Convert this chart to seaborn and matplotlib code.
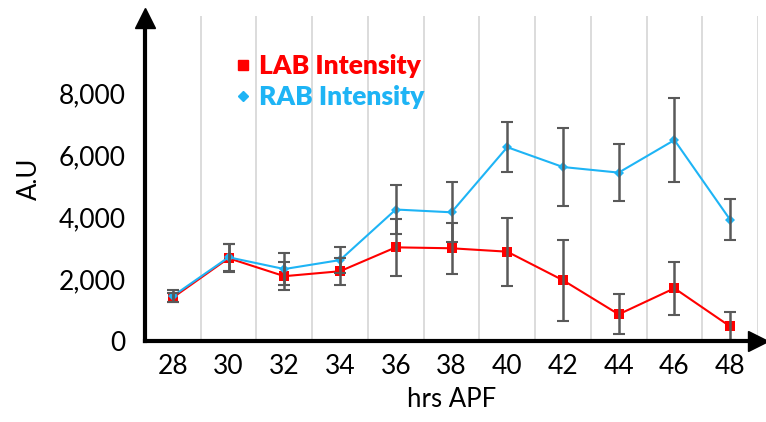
import matplotlib
matplotlib.use("Agg")
import matplotlib.pyplot as plt
import seaborn as sns
import pandas as pd
from matplotlib.lines import Line2D

hours = ["28", "30", "32", "34", "36", "38", "40", "42", "44", "46", "48"]
lab_vals = [1400, 2670, 2090, 2250, 3020, 2990, 2880, 1960, 860, 1700, 470]
lab_err = [150, 450, 460, 440, 930, 820, 1100, 1310, 640, 860, 450]
rab_vals = [1450, 2700, 2320, 2610, 4240, 4150, 6250, 5610, 5430, 6480, 3910]
rab_err = [200, 440, 520, 410, 800, 970, 810, 1250, 910, 1340, 660]
yticks = [0, 2000, 4000, 6000, 8000]

RED = "#FF0000"
BLUE = "#1EB4F5"
ERR = "#595959"

sns.set_theme(style="white")
plt.rcParams['font.family'] = ['Lato', 'DejaVu Sans']
plt.rcParams['text.color'] = 'black'
plt.rcParams['axes.labelcolor'] = 'black'
plt.rcParams['xtick.color'] = 'black'
plt.rcParams['ytick.color'] = 'black'

pos = list(range(len(hours)))
df = pd.DataFrame({
    "pos": pos * 2,
    "val": lab_vals + rab_vals,
    "series": ["LAB Intensity"] * len(hours) + ["RAB Intensity"] * len(hours),
})

fig = plt.figure(figsize=(7.66, 4.22), dpi=100)
ax = fig.add_axes([145 / 766, 81 / 422, 613 / 766, 325 / 422])

# vertical gridlines between categories
for g in [p + 0.5 for p in pos]:
    ax.axvline(g, color="#D9D9D9", lw=1.3, zorder=0)

sns.lineplot(data=df[df.series == "LAB Intensity"], x="pos", y="val", color=RED,
             marker="s", markersize=7, markeredgewidth=0, lw=1.5, ax=ax, zorder=3)
sns.lineplot(data=df[df.series == "RAB Intensity"], x="pos", y="val", color=BLUE,
             marker="D", markersize=5, markeredgewidth=0, lw=1.5, ax=ax, zorder=3)

ax.errorbar(pos, lab_vals, yerr=lab_err, fmt="none", ecolor=ERR, elinewidth=1.8,
            capsize=4, capthick=1.5, zorder=4)
ax.errorbar(pos, rab_vals, yerr=rab_err, fmt="none", ecolor=ERR, elinewidth=1.8,
            capsize=4, capthick=1.5, zorder=4)

ax.set_xlim(-0.5, 10.5)
ax.set_ylim(0, 10480)
ax.set_xticks(pos)
ax.set_xticklabels(hours, fontsize=19)
ax.set_yticks(yticks)
ax.set_yticklabels([f"{v:,}" for v in yticks], fontsize=19)
ax.tick_params(axis="y", direction="out", length=8, width=2.5, color="black", pad=6)
ax.tick_params(axis="x", length=0, pad=9)
ax.set_xlabel("hrs APF", fontsize=18.5, labelpad=6)
ax.set_ylabel("A.U", fontsize=18.5, labelpad=12)

for s in ["top", "right"]:
    ax.spines[s].set_visible(False)
for s in ["left", "bottom"]:
    ax.spines[s].set_linewidth(3)
    ax.spines[s].set_color("black")
    ax.spines[s].set_zorder(5)

# arrow heads
ax.plot(-0.5, 0.995, marker="^", color="black", markersize=15, transform=ax.get_xaxis_transform(),
        clip_on=False, zorder=6)
ax.plot(1.0, 0, marker=">", color="black", markersize=15, transform=ax.get_yaxis_transform(),
        clip_on=False, zorder=6)
ax.set_ylim(0, 10480)

handles = [Line2D([], [], color=RED, marker="s", markersize=7, ls="none"),
           Line2D([], [], color=BLUE, marker="D", markersize=5, ls="none")]
ax.legend(handles, ["LAB Intensity", "RAB Intensity"], loc="upper left",
          bbox_to_anchor=(0.13, 0.915), frameon=False, labelcolor=[RED, BLUE],
          prop={"weight": "heavy", "size": 19}, handlelength=0.6, handletextpad=0.3,
          labelspacing=0.25, borderaxespad=0)

fig.savefig("out.png", dpi=100)
